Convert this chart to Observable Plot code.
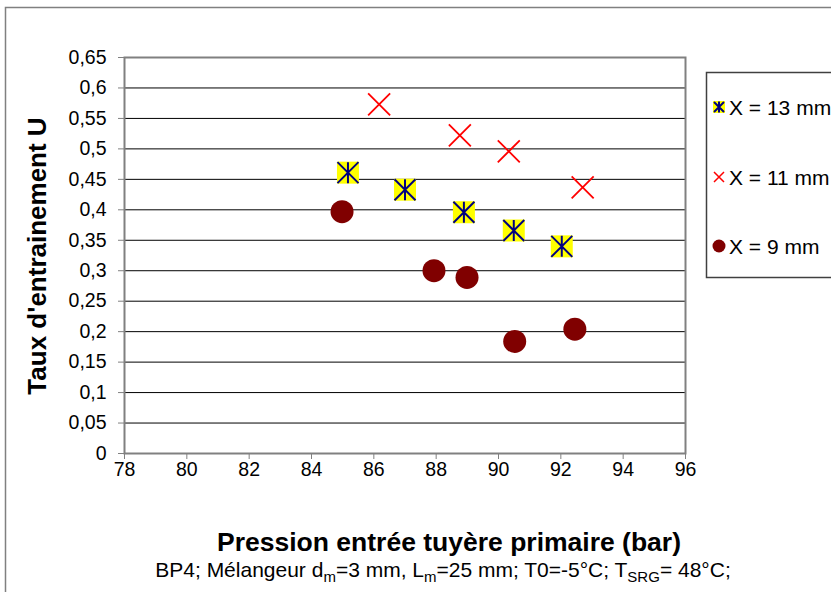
<!DOCTYPE html>
<html>
<head>
<meta charset="utf-8">
<script src="https://cdn.jsdelivr.net/npm/d3@7"></script>
<script src="https://cdn.jsdelivr.net/npm/@observablehq/plot@0.6"></script>
<style>
  html, body { margin: 0; padding: 0; background: #fff; }
  #chart { position: relative; width: 831px; height: 592px; overflow: hidden; }
</style>
</head>
<body>
<div id="chart"></div>
<script>
// ---- Data ----
const seriesNames = ["X = 13 mm", "X = 11 mm", "X = 9 mm"];
const x13 = [85.17, 87.0, 88.89, 90.49, 92.03];
const u13 = [0.461, 0.433, 0.396, 0.366, 0.340];
const x11 = [86.17, 88.76, 90.33, 92.70];
const u11 = [0.573, 0.522, 0.496, 0.437];
const x9 = [84.98, 87.93, 88.99, 90.52, 92.45];
const u9 = [0.397, 0.300, 0.289, 0.184, 0.204];
const xTicks = [78, 80, 82, 84, 86, 88, 90, 92, 94, 96];
const yTicks = [0, 0.05, 0.1, 0.15, 0.2, 0.25, 0.3, 0.35, 0.4, 0.45, 0.5, 0.55, 0.6, 0.65];
const yTickLabels = ["0", "0,05", "0,1", "0,15", "0,2", "0,25", "0,3", "0,35", "0,4", "0,45", "0,5", "0,55", "0,6", "0,65"];
const xTitle = "Pression entrée tuyère primaire (bar)";
const yTitle = "Taux d'entrainement U";

const d13 = x13.map((x, i) => ({x, u: u13[i]}));
const d11 = x11.map((x, i) => ({x, u: u11[i]}));
const d9 = x9.map((x, i) => ({x, u: u9[i]}));

// custom symbols (r = half extent)
const half = size => Math.sqrt(size / Math.PI);
const squareSym = {draw(c, size) { const h = half(size); c.rect(-h, -h, 2 * h, 2 * h); }};
const starSym = {draw(c, size) { const h = half(size);
  c.moveTo(0, -h); c.lineTo(0, h);
  c.moveTo(-h, -h); c.lineTo(h, h);
  c.moveTo(-h, h); c.lineTo(h, -h); }};
const crossSym = {draw(c, size) { const h = half(size);
  c.moveTo(-h, -h); c.lineTo(h, h);
  c.moveTo(-h, h); c.lineTo(h, -h); }};

const W = 831, H = 592;
const mL = 124, mT = 57, mR = 146, mB = 139;
const font = "'Liberation Sans', Arial, sans-serif";

const plot = Plot.plot({
  width: W, height: H,
  marginLeft: mL, marginTop: mT, marginRight: mR, marginBottom: mB,
  style: {fontFamily: font, fontSize: "20px", color: "#000", background: "#fff"},
  x: {domain: [78, 96]},
  y: {domain: [0, 0.65]},
  marks: [
    Plot.ruleY(yTicks.slice(1, -1), {stroke: "#000", strokeWidth: 1}),
    Plot.frame({stroke: "#808080", strokeWidth: 2}),
    Plot.axisY(yTicks, {tickSize: 6, tickPadding: 12, tickFormat: d => yTickLabels[yTicks.indexOf(d)], fontSize: 19.5, label: null, stroke: "#808080"}),
    Plot.axisX(xTicks, {tickSize: 6, tickPadding: 3, fontSize: 19.5, label: null, stroke: "#808080"}),
    Plot.dot(d9, {x: "x", y: "u", r: 11.5, fill: "#800000", stroke: "none"}),
    Plot.dot(d11, {x: "x", y: "u", symbol: crossSym, r: 11, stroke: "#ff0000", strokeWidth: 1.8, fill: "none"}),
    Plot.dot(d13, {x: "x", y: "u", symbol: squareSym, r: 11, fill: "#ffff00", stroke: "none"}),
    Plot.dot(d13, {x: "x", y: "u", symbol: starSym, r: 10.5, stroke: "#000080", strokeWidth: 2, fill: "none"})
  ]
});

document.getElementById("chart").appendChild(plot);

// ---- Annotations: outer border, titles, caption, legend ----
const svg = d3.select(plot);
svg.insert("rect", ":first-child")
  .attr("x", 5.5).attr("y", 7.5).attr("width", W + 20).attr("height", H + 20)
  .attr("fill", "none").attr("stroke", "#808080").attr("stroke-width", 1.5);

svg.append("text")
  .attr("transform", "translate(46,256) rotate(-90)")
  .attr("text-anchor", "middle")
  .style("font-family", font).style("font-weight", "bold").style("font-size", "26px")
  .attr("fill", "#000")
  .text(yTitle);

svg.append("text")
  .attr("x", 449).attr("y", 551)
  .attr("text-anchor", "middle")
  .style("font-family", font).style("font-weight", "bold").style("font-size", "26.5px")
  .attr("fill", "#000")
  .text(xTitle);

const cap = svg.append("text")
  .attr("x", 443).attr("y", 577)
  .attr("text-anchor", "middle")
  .style("font-family", font).style("font-size", "21px").attr("fill", "#000");
const parts = [["BP4; Mélangeur d", false], ["m", true], ["=3 mm, L", false], ["m", true],
  ["=25 mm; T0=-5°C; T", false], ["SRG", true], ["= 48°C;", false]];
parts.forEach(([t, sub]) => {
  cap.append("tspan").style("font-size", sub ? "15px" : "21px")
    .attr("baseline-shift", sub ? "-5" : null).text(t);
});

// legend
const lg = svg.append("g");
lg.append("rect").attr("x", 706.5).attr("y", 72.5).attr("width", 200).attr("height", 205)
  .attr("fill", "#fff").attr("stroke", "#404040").attr("stroke-width", 1.5);
const ly = [107, 177, 246];
const lx = 719;
// item 1
lg.append("rect").attr("x", lx - 6).attr("y", ly[0] - 6).attr("width", 12).attr("height", 12).attr("fill", "#ffff00");
lg.append("path").attr("d", `M${lx},${ly[0]-5.5}V${ly[0]+5.5}M${lx-5},${ly[0]-5}L${lx+5},${ly[0]+5}M${lx-5},${ly[0]+5}L${lx+5},${ly[0]-5}`)
  .attr("stroke", "#000080").attr("stroke-width", 2).attr("fill", "none");
// item 2
lg.append("path").attr("d", `M${lx-5},${ly[1]-5}L${lx+5},${ly[1]+5}M${lx-5},${ly[1]+5}L${lx+5},${ly[1]-5}`)
  .attr("stroke", "#ff0000").attr("stroke-width", 1.5).attr("fill", "none");
// item 3
lg.append("circle").attr("cx", lx).attr("cy", ly[2]).attr("r", 6.5).attr("fill", "#800000");
seriesNames.forEach((s, i) => {
  lg.append("text").attr("x", 729).attr("y", ly[i] + 7.5)
    .attr("text-anchor", "start")
    .style("font-family", font).style("font-size", "21px").attr("fill", "#000").text(s);
});
</script>
</body>
</html>
